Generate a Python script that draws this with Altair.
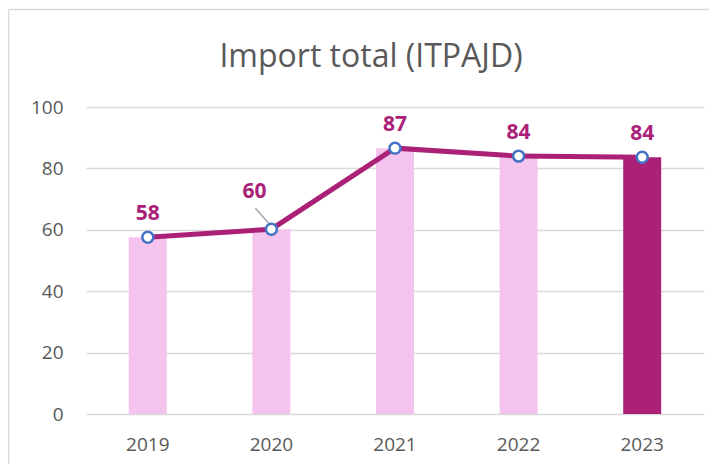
import altair as alt
import pandas as pd

years = ["2019", "2020", "2021", "2022", "2023"]
values = [57.6, 60.2, 86.6, 84.0, 83.6]
labels = ["58", "60", "87", "84", "84"]
highlight = [False, False, False, False, True]

df = pd.DataFrame({"year": years, "value": values, "label": labels, "hl": highlight})

DARK = "#AB2178"
LIGHT = "#F4C3EE"
FONT = "Open Sans"
W, H = 618, 307
PAD = {"left": 78, "top": 99, "right": 5, "bottom": 50}

x = alt.X("year:N", title=None, axis=alt.Axis(labelAngle=0, labelFontSize=19, labelColor="#595959",
                                              labelFont=FONT, ticks=False, domain=False, labelPadding=21))
y = alt.Y("value:Q", title=None, scale=alt.Scale(domain=[0, 100]),
          axis=alt.Axis(values=[0, 20, 40, 60, 80, 100], labelFontSize=19, labelColor="#595959",
                        labelFont=FONT, ticks=False, domain=False, labelPadding=23,
                        gridColor="#D9D9D9", gridWidth=1.5))

base = alt.Chart(df)

frame_top = base.mark_rule(stroke="#D9D9D9", strokeWidth=1.5).encode(
    x=alt.value(-PAD["left"] + 0.5), x2=alt.value(W + PAD["right"] + 10),
    y=alt.value(-PAD["top"] + 1.5)
).transform_filter("datum.year == '2019'")
frame_left = base.mark_rule(stroke="#D9D9D9", strokeWidth=1.5).encode(
    x=alt.value(-PAD["left"] + 0.5),
    y=alt.value(-PAD["top"] + 1.5), y2=alt.value(H + PAD["bottom"] + 10)
).transform_filter("datum.year == '2019'")

bars = base.mark_bar(size=38).encode(
    x=x, y=y,
    color=alt.Color("hl:N", scale=alt.Scale(domain=[False, True], range=[LIGHT, DARK]), legend=None),
)

leader = base.mark_point(
    shape="M-0.727,-0.955L-0.045,-0.18", size=1936, stroke="#A6A6A6", strokeWidth=1.5,
    filled=False, opacity=1
).encode(x="year:N", y="value:Q").transform_filter("datum.year == '2020'")

line = base.mark_line(color=DARK, strokeWidth=5).encode(x="year:N", y="value:Q")

points = base.mark_point(filled=True, fill="white", stroke="#4472C4", strokeWidth=2.5, size=120,
                         opacity=1).encode(x="year:N", y="value:Q")

txt = base.mark_text(fontSize=21, fontWeight="bold", color=DARK, font=FONT, baseline="alphabetic",
                     dy=-17).encode(x="year:N", y="value:Q", text="label:N").transform_filter(
    "datum.year != '2020'")
txt2 = base.mark_text(fontSize=21, fontWeight="bold", color=DARK, font=FONT, baseline="alphabetic",
                      dx=-17, dy=-31).encode(x="year:N", y="value:Q", text="label:N").transform_filter(
    "datum.year == '2020'")

chart = alt.layer(frame_top, frame_left, bars, leader, line, points, txt, txt2).properties(
    width=W, height=H,
    title=alt.TitleParams("Import total (ITPAJD)", fontSize=32, font=FONT, fontWeight="normal",
                          color="#595959", dx=-24, offset=-65),
    autosize=alt.AutoSizeParams(type="none"),
    padding=PAD,
).configure_view(stroke=None)

chart.save("out.html", embed_options={"renderer": "svg", "actions": False})
